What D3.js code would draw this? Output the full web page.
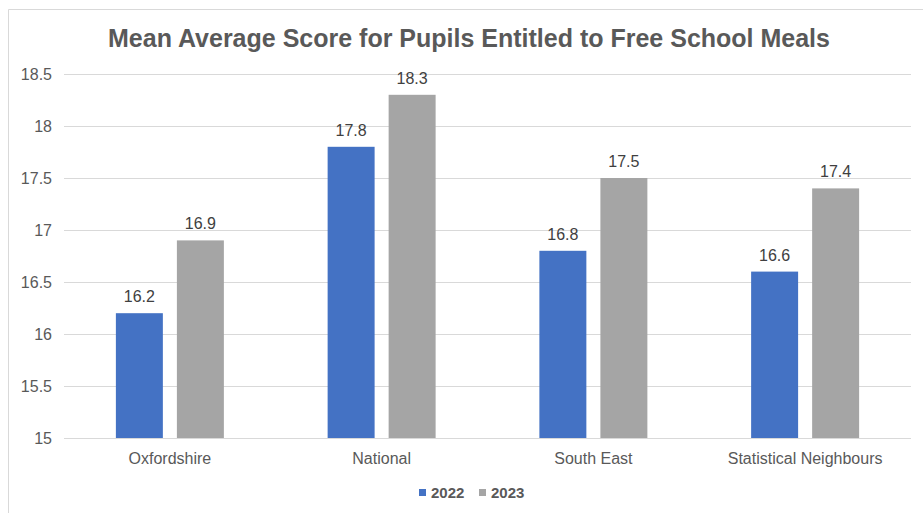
<!DOCTYPE html>
<html><head><meta charset="utf-8">
<script src="https://cdn.jsdelivr.net/npm/d3@7"></script>
<style>body{margin:0;background:#fff;} svg{display:block;font-family:"Liberation Sans",Arial,sans-serif;}</style>
</head><body>
<script>
const categories = ["Oxfordshire","National","South East","Statistical Neighbours"];
const series = ["2022","2023"];
const values2022 = [16.2,17.8,16.8,16.6];
const values2023 = [16.9,18.3,17.5,17.4];
const yTicks = [15,15.5,16,16.5,17,17.5,18,18.5];
const colors = ["#4472C4","#A5A5A5"];
const title = "Mean Average Score for Pupils Entitled to Free School Meals";

const W=923,H=513;
const svg=d3.select("body").append("svg").attr("width",W).attr("height",H);
svg.append("rect").attr("x",0).attr("y",0).attr("width",W).attr("height",H).attr("fill","#fff");
// outer border
svg.append("path").attr("d","M8.5,513 L8.5,9.5 L923,9.5").attr("fill","none").attr("stroke","#D9D9D9").attr("stroke-width",1);

const pLeft=64,pRight=911,pTop=74,pBottom=438;
const x=d3.scaleBand().domain(categories).range([pLeft,pRight]).paddingInner(0.49).paddingOuter(0.245);
const x1=d3.scaleBand().domain(series).range([0,x.bandwidth()]).paddingInner(0.23);
const y=d3.scaleLinear().domain([15,18.5]).range([pBottom,pTop]);

svg.append("text").attr("x",469).attr("y",47).attr("text-anchor","middle")
  .attr("font-size",25).attr("font-weight","bold").attr("fill","#595959").text(title);

const g=svg.append("g");
g.selectAll("line.grid").data(yTicks).join("line").attr("class","grid")
  .attr("x1",pLeft).attr("x2",pRight).attr("y1",d=>Math.round(y(d))+0.5).attr("y2",d=>Math.round(y(d))+0.5)
  .attr("stroke","#D9D9D9").attr("stroke-width",1);

const yAxis=svg.append("g").attr("transform",`translate(${pLeft},0)`)
  .call(d3.axisLeft(y).tickValues(yTicks).tickSize(0).tickPadding(12).tickFormat(d=>String(d)));
yAxis.select(".domain").remove();
yAxis.selectAll("text").attr("font-size",16).attr("fill","#595959").attr("font-family","Liberation Sans, Arial, sans-serif");

const xAxis=svg.append("g").attr("transform",`translate(0,${pBottom})`)
  .call(d3.axisBottom(x).tickSize(0).tickPadding(15));
xAxis.select(".domain").remove();
xAxis.selectAll("text").attr("font-size",16).attr("fill","#595959").attr("font-family","Liberation Sans, Arial, sans-serif");

const data=categories.map((c,i)=>({cat:c,vals:[{s:"2022",v:values2022[i]},{s:"2023",v:values2023[i]}]}));
const groups=svg.selectAll("g.grp").data(data).join("g").attr("class","grp")
  .attr("transform",d=>`translate(${x(d.cat)},0)`);
groups.selectAll("rect").data(d=>d.vals).join("rect")
  .attr("x",d=>x1(d.s)).attr("width",x1.bandwidth())
  .attr("y",d=>y(d.v)).attr("height",d=>y(15)-y(d.v))
  .attr("fill",(d,i)=>colors[i]);
groups.selectAll("text").data(d=>d.vals).join("text")
  .attr("x",d=>x1(d.s)+x1.bandwidth()/2).attr("y",d=>y(d.v)-11)
  .attr("text-anchor","middle").attr("font-size",16).attr("fill","#404040")
  .text(d=>d.v.toFixed(1));

// legend
const leg=svg.append("g");
const legX=[419,479];
series.forEach((s,i)=>{
  leg.append("rect").attr("x",legX[i]).attr("y",489).attr("width",7).attr("height",7).attr("fill",colors[i]);
  leg.append("text").attr("x",legX[i]+12).attr("y",497.5).attr("font-size",15).attr("font-weight","bold")
    .attr("fill","#595959").text(s);
});
</script>
</body></html>
